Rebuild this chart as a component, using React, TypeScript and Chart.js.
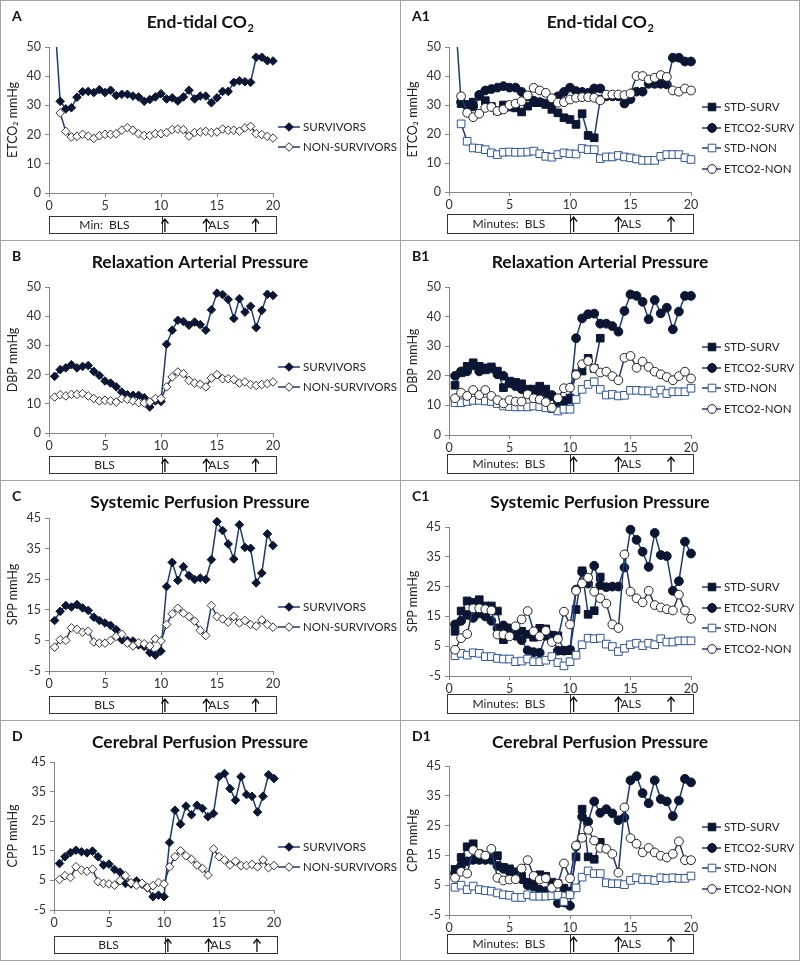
import { useEffect, useRef } from 'react';
import { Chart, registerables } from 'chart.js';

Chart.register(...registerables);

if (typeof document !== 'undefined') document.body.style.margin = '0';

const FONT = 'Lato, "Open Sans", "DejaVu Sans", sans-serif';

// ---------- DATA ----------
const minutes = [0.5, 1, 1.5, 2, 2.5, 3, 3.5, 4, 4.5, 5, 5.5, 6, 6.5, 7, 7.5, 8, 8.5, 9, 9.5, 10,
  10.5, 11, 11.5, 12, 12.5, 13, 13.5, 14, 14.5, 15, 15.5, 16, 16.5, 17, 17.5, 18, 18.5, 19, 19.5, 20];
const xTicks = [0, 5, 10, 15, 20];
const yTicks50 = [0, 10, 20, 30, 40, 50];
const yTicks45 = [-5, 5, 15, 25, 35, 45];

// A: End-tidal CO2
const A_SURV = [60, 31.4, 28.8, 29.2, 32.8, 34.7, 34.8, 34.4, 35.4, 34.4, 35.2, 33.4, 33.8, 33.8, 33.2, 32.9, 31.4, 32, 32.9, 34,
  32.2, 32.6, 31.5, 32.9, 35.2, 32.2, 33.2, 33.2, 30.9, 32.6, 34.8, 34.8, 37.9, 38.4, 38.1, 37.9, 46.5, 46.5, 45.3, 45.2];
const A_NON = [null, 27.4, 21.1, 19.2, 19.4, 20.1, 19.5, 18.7, 19.6, 20.1, 20.1, 20.3, 21.5, 22.4, 21.5, 20.3, 19.7, 19.7, 20.3, 20.3,
  20.7, 21.7, 21.9, 21.7, 19.5, 20.7, 20.9, 21.1, 20.7, 20.9, 21.9, 21.5, 21.5, 21.2, 22.3, 22.8, 20.3, 20, 19.4, 18.8];
// A1
const A1_STD_SURV = [null, 30.5, 30, 31, 33, 31.5, 29.5, 28, 30, 29.3, 29, 27.6, 29.6, 30.8, 30.8, 30.2, 28.5, 27.3, 25.6, 25,
  23.3, 27, 19.5, 18.7, 32, null, null, null, null, null, null, null, null, null, null, null, null, null, null, null];
const A1_ET_SURV = [62, 31, 30, 29.5, 33.5, 35, 35.5, 36, 36.5, 36, 36, 34.5, 33, 31.5, 31, 30.5, 31, 33, 34.5, 36,
  34.8, 34.5, 34.2, 35.7, 35.7, 33, 33, 33, 30.5, 32, 34.6, 34.6, 37.3, 37.3, 37.3, 37.1, 46.3, 46.3, 45, 45];
const A1_STD_NON = [null, 23.5, 17.5, 15.2, 15, 14.6, 13.5, 12.9, 13.7, 13.8, 13.7, 13.7, 13.8, 14.1, 13.2, 12.3, 12, 12.9, 13.5, 13.2,
  13.1, 15, 14.6, 14.6, 11.5, 12.1, 12.1, 12.6, 12.1, 11.8, 11.4, 10.9, 10.9, 10.9, 12.3, 12.9, 12.9, 12.9, 11.8, 11.2];
const A1_ET_NON = [null, 33, 27.3, 25.8, 27, 29, 29.3, 27.9, 28.5, 30, 30.5, 31.3, 33.3, 35.9, 35, 34.2, 32.3, 30.8, 31, 31.9,
  32.5, 32.7, 32.7, 32.5, 31.6, 33.6, 33.6, 33.6, 33.4, 34, 40, 40, 38.8, 39.4, 40.3, 39.7, 35, 34.6, 35.7, 35];

// B: Relaxation Arterial Pressure
const B_SURV = [19.4, 21.7, 22.3, 23.4, 22.3, 22.8, 23.1, 21.1, 19.7, 17.8, 17.1, 15.8, 14, 13.1, 12.9, 12.9, 12.1, 8.9, 11, 10.8,
  30.4, 35.2, 38.6, 38.2, 36.9, 38, 37.1, 35.2, 42.2, 47.9, 47.4, 45.7, 39.2, 46, 41.4, 43.4, 36.1, 42, 47.5, 47.1];
const B_NON = [12.3, 13.1, 12.7, 13.2, 13.2, 13.5, 12.7, 11.8, 11, 11.2, 11, 10.6, 11.8, 11.5, 11, 10.4, 10.3, 10.6, 11.8, 11.8,
  15.8, 19.2, 20.9, 20.3, 18, 17.1, 16.7, 15.8, 18.8, 20, 18.6, 18.6, 18.3, 17.1, 17.5, 16.6, 16.3, 16.6, 16.9, 17.5];
// B1
const B1_STD_SURV = [16.8, 21, 23.2, 24.4, 23.2, 22, 23, 21.6, 16, 18.2, 17.8, 17.3, 15.5, 15.5, 16.5, 15.5, 13, 11.5, 11, 12.5,
  20.7, 21.6, 25.9, 22.5, 32.7, null, null, null, null, null, null, null, null, null, null, null, null, null, null, null];
const B1_ET_SURV = [20, 21.5, 21.5, 23.5, 21.5, 22.5, 22.5, 20.5, 20, 17.5, 16.5, 15.5, 14.5, 14, 14, 14, 13.5, 11, 11.5, 12,
  32.7, 39.4, 40.8, 41, 37.6, 37.6, 36.8, 34.9, 41.9, 47.5, 47, 45, 39.1, 45.6, 41.1, 43, 35.7, 41.7, 47, 47];
const B1_STD_NON = [10.9, 10.9, 11.3, 11.7, 11.7, 11.5, 11.3, 10.6, 9.8, 9.6, 9.5, 9.5, 9.5, 9.8, 9.6, 9.2, 8.9, 8.1, 8.7, 8.7,
  12, 15.4, 17.1, 18, 15.4, 13.5, 13.7, 13.2, 13.4, 15.1, 15.1, 14.9, 14.9, 14.1, 15.2, 14, 14.6, 14.6, 14.6, 15.8];
const B1_ET_NON = [12.4, 14.3, 13.2, 15.2, 13.5, 15.2, 13.2, 11.8, 10.7, 11.8, 11.3, 11.3, 13.7, 12.4, 12, 11.1, 9.2, 12.4, 15.8, 16,
  20.3, 23.9, 25, 22.5, 21.1, 21.4, 19.9, 18.5, 26.1, 26.7, 22.7, 24.8, 23, 21.4, 20.5, 19.6, 18.5, 19.9, 21.4, 19.1];

// C: Systemic Perfusion Pressure
const C_SURV = [11.5, 14.5, 16.4, 15.9, 16.7, 15.6, 14.8, 12.6, 11.5, 10.7, 9.9, 8.5, 5.2, 5, 4.8, 3.5, 3, 1, 0.2, 1.5,
  22.6, 30.5, 24.6, 29.1, 26.2, 24.9, 25.4, 24.9, 31.4, 43.8, 40.9, 36.5, 31.6, 42.8, 35.4, 35.1, 23.8, 27, 39.8, 36];
const C_NON = [2.8, 5.2, 5, 9.1, 8.6, 7.7, 8, 4.5, 4.1, 4.1, 5, 6.3, 7, 4.1, 3.2, 4.2, 3.9, 3.2, 5.5, 4.8,
  10.2, 13.7, 15.5, 13.9, 12.8, 11.3, 8.3, 6.6, 16.4, 12.8, 12, 11, 12.8, 10.7, 11.5, 10.2, 9.7, 11.7, 10.2, 9.3];
// C1
const C1_STD_SURV = [10, 16.8, 20.2, 19.7, 20.6, 18.5, 18.5, 16.8, 7.2, 9.8, 9, 10, 9, 8, 11, 10.8, 8.7, 8.5, 3.5, 3.5,
  17.3, 30.3, 15.7, 16.9, 28.2, null, null, null, null, null, null, null, null, null, null, null, null, null, null, null];
const C1_ET_SURV = [12.3, 13.5, 15.5, 14.5, 16, 15, 13.5, 11, 12, 11, 8.5, 7, 3.6, 3, 2.8, 8.5, 8.5, 3.5, 3.5, 3.8,
  24, 30, 26, 32, 25.5, 24.8, 25, 25, 31.4, 44.1, 40.7, 36.7, 31.6, 43, 35.6, 35.2, 23.6, 26.8, 40.1, 36.1];
const C1_STD_NON = [1.8, 2.6, 2, 2.8, 2.6, 1.5, 1.5, 0.9, 0.7, 0.7, -0.2, 0, 0.7, -0.2, -0.2, 0.3, 1.5, -0.5, -1.6, -0.2,
  2, 5.5, 7.7, 7.5, 7.7, 5.7, 4.9, 3.2, 4.3, 5.5, 6, 5.2, 6, 5.5, 7.5, 6.4, 6.4, 6.8, 6.8, 6.8];
const C1_ET_NON = [3.8, 7.7, 9.1, 17.7, 17.7, 17.4, 17, 8.9, 8.9, 8.3, 11.7, 14, 16.8, 10, 8.3, 10.2, 6.4, 7.5, 16.6, 12.3,
  23.6, 26.1, 28, 23.3, 21.1, 19.3, 12.3, 11.1, 35.8, 23.3, 21.1, 19.7, 23.6, 18.8, 18, 17.4, 17, 22.3, 17, 14.2];

// D: Cerebral Perfusion Pressure
const D_SURV = [10.7, 13, 14.4, 15.2, 14.7, 14.3, 14.9, 13, 10.2, 10.5, 8.7, 7.8, 4, 3.8, 4.8, 3.7, 2.5, -0.5, 0, -0.5,
  17.8, 28.7, 24, 30.1, 27.2, 30.4, 29.3, 26.5, 27.6, 40, 41.1, 36, 32.1, 40, 34, 33.4, 28.1, 33.4, 40.7, 39.4];
const D_NON = [5.3, 6.6, 6, 9.6, 8.5, 8.1, 8.8, 4.6, 4, 3.8, 3.4, 4.9, 6.6, 4.2, 3.4, 4, 2.6, 3.2, 4.3, 3.8,
  9.6, 13, 15, 13.3, 12.1, 10.2, 9, 6.8, 15.6, 13, 11.9, 10.2, 11.5, 10, 10, 10.4, 9.6, 11.9, 9.3, 10];
// D1
const D1_STD_SURV = [10.3, 14.3, 17.9, 18.9, 15.5, 14.5, 14, 14.9, 11, 10.5, 9.5, 8, 6, 6, 8.5, 8, 6, 5.5, 4, 3,
  14.5, 30.5, 14.5, 13.7, 19.4, null, null, null, null, null, null, null, null, null, null, null, null, null, null, null];
const D1_ET_SURV = [9, 11.5, 13, 13.5, 13.5, 13.5, 13.5, 11.5, 10.5, 9.5, 8.5, 7, 5, 4.5, 3.5, 3, 2.5, -1, -0.8, -1.9,
  18, 28, 26.3, 33.1, 29.3, 30.5, 29.1, 26.8, 27.7, 40.2, 41.6, 35.9, 32.5, 40.2, 33.9, 33.1, 28.2, 33.4, 40.7, 39.5];
const D1_STD_NON = [4.3, 5, 3.5, 4.7, 3.5, 3.2, 3, 2.4, 1.8, 1.6, 0.9, 0.9, 1.8, 1.3, 1.3, 1.3, 1.5, 1.6, -0.5, 1.8,
  4.1, 7.7, 9.8, 8.9, 8.9, 5.8, 5.5, 5.5, 5.2, 6.6, 7.5, 6.9, 6.9, 6.6, 7.5, 7.3, 7.5, 7.3, 7.3, 8.1];
const D1_ET_NON = [7.5, 9.5, 8.9, 16.8, 15.5, 14.9, 17.2, 7.5, 6.6, 6.9, 7, 10.6, 13.4, 8.1, 6.9, 7.3, 4.1, 5.5, 12.3, 7.3,
  18.3, 20.9, 23.6, 20, 17.5, 17.2, 15.5, 9.2, 31.1, 20.8, 18.9, 16, 17.5, 16, 14.9, 14.3, 15.5, 19.7, 13.4, 13.4];

// ---------- STYLES ----------
const LINE = '#1f3a70';
type Shape = 'rectRot' | 'rect' | 'circle';
type Style = { shape: Shape; r: number; fill: string; stroke: string };
const STYLES: Record<string, Style> = {
  survDiamond: { shape: 'rectRot', r: 4.3, fill: '#0b1633', stroke: '#0b1633' },
  nonDiamond: { shape: 'rectRot', r: 4.3, fill: '#ffffff', stroke: '#333333' },
  stdSurv: { shape: 'rect', r: 5.4, fill: '#0b1633', stroke: '#0b1633' },
  etSurv: { shape: 'circle', r: 4.4, fill: '#0b1633', stroke: '#0b1633' },
  stdNon: { shape: 'rect', r: 5.4, fill: '#ffffff', stroke: '#2f5597' },
  etNon: { shape: 'circle', r: 4.4, fill: '#ffffff', stroke: '#222222' },
};

type Series = { label: string; values: (number | null)[]; style: string };
type PanelCfg = {
  letter: string; title: string; sub?: string; yTitle: string;
  yMin: number; yMax: number; yTicks: number[];
  right: boolean; lastRow: boolean; boxText: string;
  yWidth: number; top: number; bottom: number; plotRight: number;
  clipTop: number; series: Series[];
};

const leftSeries = (s: (number | null)[], n: (number | null)[]): Series[] => [
  { label: 'SURVIVORS', values: s, style: 'survDiamond' },
  { label: 'NON-SURVIVORS', values: n, style: 'nonDiamond' },
];
const rightSeries = (a: (number | null)[], b: (number | null)[], c: (number | null)[], d: (number | null)[]): Series[] => [
  { label: 'STD-SURV', values: a, style: 'stdSurv' },
  { label: 'ETCO2-SURV', values: b, style: 'etSurv' },
  { label: 'STD-NON', values: c, style: 'stdNon' },
  { label: 'ETCO2-NON', values: d, style: 'etNon' },
];

const PANELS: PanelCfg[] = [
  { letter: 'A', title: 'End-tidal CO', sub: '2', yTitle: 'ETCO\u2082 mmHg', yMin: 0, yMax: 50, yTicks: yTicks50, right: false, lastRow: false,
    boxText: 'Min:  BLS', yWidth: 49, top: 47, bottom: 193, plotRight: 273, clipTop: 0, series: leftSeries(A_SURV, A_NON) },
  { letter: 'A1', title: 'End-tidal CO', sub: '2', yTitle: 'ETCO\u2082 mmHg', yMin: 0, yMax: 50, yTicks: yTicks50, right: true, lastRow: false,
    boxText: 'Minutes:  BLS', yWidth: 49, top: 47, bottom: 192, plotRight: 291, clipTop: 0, series: rightSeries(A1_STD_SURV, A1_ET_SURV, A1_STD_NON, A1_ET_NON) },
  { letter: 'B', title: 'Relaxation Arterial Pressure', yTitle: 'DBP mmHg', yMin: 0, yMax: 50, yTicks: yTicks50, right: false, lastRow: false,
    boxText: 'BLS', yWidth: 49, top: 47, bottom: 193, plotRight: 273, clipTop: 6, series: leftSeries(B_SURV, B_NON) },
  { letter: 'B1', title: 'Relaxation Arterial Pressure', yTitle: 'DBP mmHg', yMin: 0, yMax: 50, yTicks: yTicks50, right: true, lastRow: false,
    boxText: 'Minutes:  BLS', yWidth: 49, top: 47, bottom: 195, plotRight: 291, clipTop: 6, series: rightSeries(B1_STD_SURV, B1_ET_SURV, B1_STD_NON, B1_ET_NON) },
  { letter: 'C', title: 'Systemic Perfusion Pressure', yTitle: 'SPP mmHg', yMin: -5, yMax: 45, yTicks: yTicks45, right: false, lastRow: false,
    boxText: 'BLS', yWidth: 49, top: 38, bottom: 191, plotRight: 273, clipTop: 6, series: leftSeries(C_SURV, C_NON) },
  { letter: 'C1', title: 'Systemic Perfusion Pressure', yTitle: 'SPP mmHg', yMin: -5, yMax: 45, yTicks: yTicks45, right: true, lastRow: false,
    boxText: 'Minutes:  BLS', yWidth: 49, top: 47, bottom: 196, plotRight: 291, clipTop: 6, series: rightSeries(C1_STD_SURV, C1_ET_SURV, C1_STD_NON, C1_ET_NON) },
  { letter: 'D', title: 'Cerebral Perfusion Pressure', yTitle: 'CPP mmHg', yMin: -5, yMax: 45, yTicks: yTicks45, right: false, lastRow: true,
    boxText: 'BLS', yWidth: 54, top: 42, bottom: 190, plotRight: 274, clipTop: 6, series: leftSeries(D_SURV, D_NON) },
  { letter: 'D1', title: 'Cerebral Perfusion Pressure', yTitle: 'CPP mmHg', yMin: -5, yMax: 45, yTicks: yTicks45, right: true, lastRow: true,
    boxText: 'Minutes:  BLS', yWidth: 49, top: 46, bottom: 195, plotRight: 291, clipTop: 6, series: rightSeries(D1_STD_SURV, D1_ET_SURV, D1_STD_NON, D1_ET_NON) },
];

function drawMarker(ctx: CanvasRenderingContext2D, st: Style, x: number, y: number) {
  ctx.beginPath();
  if (st.shape === 'circle') {
    ctx.arc(x, y, st.r, 0, Math.PI * 2);
  } else if (st.shape === 'rect') {
    const s = st.r * Math.SQRT1_2;
    ctx.rect(x - s, y - s, 2 * s, 2 * s);
  } else {
    ctx.moveTo(x, y - st.r); ctx.lineTo(x + st.r, y); ctx.lineTo(x, y + st.r); ctx.lineTo(x - st.r, y); ctx.closePath();
  }
  ctx.fillStyle = st.fill; ctx.fill();
  ctx.lineWidth = 1; ctx.strokeStyle = st.stroke; ctx.stroke();
}

function makeDecor(cfg: PanelCfg, h: number) {
  return {
    id: 'decor',
    afterDraw(chart: any) {
      const ctx = chart.ctx as CanvasRenderingContext2D;
      const xs = chart.scales.x;
      ctx.save();
      // cell borders
      ctx.strokeStyle = '#a3a3a3'; ctx.lineWidth = 1;
      ctx.beginPath();
      ctx.moveTo(0.5, 0); ctx.lineTo(0.5, h);
      ctx.moveTo(0, 0.5); ctx.lineTo(400, 0.5);
      if (cfg.right) { ctx.moveTo(399.5, 0); ctx.lineTo(399.5, h); }
      if (cfg.lastRow) { ctx.moveTo(0, h - 0.5); ctx.lineTo(400, h - 0.5); }
      ctx.stroke();
      // panel letter
      ctx.fillStyle = '#111'; ctx.textAlign = 'left'; ctx.textBaseline = 'alphabetic';
      ctx.font = `bold 14px ${FONT}`;
      ctx.fillText(cfg.letter, 12, 21);
      // title
      ctx.font = `bold 17.5px ${FONT}`;
      const w1 = ctx.measureText(cfg.title).width;
      ctx.font = `bold 11px ${FONT}`;
      const w2 = cfg.sub ? ctx.measureText(cfg.sub).width : 0;
      const x0 = 200 - (w1 + w2) / 2;
      ctx.font = `bold 17.5px ${FONT}`;
      ctx.fillText(cfg.title, x0, 28);
      if (cfg.sub) { ctx.font = `bold 11px ${FONT}`; ctx.fillText(cfg.sub, x0 + w1 + 0.5, 32); }
      // legend
      const lg = cfg.right
        ? { x1: 302, x2: 321, mx: 312, tx: 324, ys: [107, 128, 148, 169] }
        : { x1: 278, x2: 300, mx: 289, tx: 303, ys: [127, 147] };
      cfg.series.forEach((s, i) => {
        const y = lg.ys[i];
        ctx.strokeStyle = LINE; ctx.lineWidth = 1.5;
        ctx.beginPath(); ctx.moveTo(lg.x1, y); ctx.lineTo(lg.x2, y); ctx.stroke();
        drawMarker(ctx, STYLES[s.style], lg.mx, y);
        ctx.fillStyle = '#222'; ctx.font = `11.5px ${FONT}`; ctx.textBaseline = 'middle'; ctx.textAlign = 'left';
        ctx.fillText(s.label, lg.tx, y + 0.5);
      });
      // phase box
      const bx = cfg.right
        ? { a: -0.2, b: 20.2, div: 10.0, arrows: [10.3, 14.0, 18.35], top: 214, bot: 233 }
        : { a: 0, b: 20.3, div: 10.1, arrows: [10.35, 14.05, 18.45], top: 216, bot: 233 };
      const L = Math.round(xs.getPixelForValue(bx.a)) + 0.5;
      const R = Math.round(xs.getPixelForValue(bx.b)) + 0.5;
      ctx.strokeStyle = '#333'; ctx.lineWidth = 1;
      ctx.strokeRect(L, bx.top + 0.5, R - L, bx.bot - bx.top);
      const D = Math.round(xs.getPixelForValue(bx.div)) + 0.5;
      ctx.beginPath(); ctx.moveTo(D, bx.top); ctx.lineTo(D, bx.bot); ctx.stroke();
      ctx.lineWidth = 1.3; ctx.strokeStyle = '#111';
      bx.arrows.forEach((v) => {
        const ax = xs.getPixelForValue(v);
        const t = bx.top + 3, b = bx.bot - 1;
        ctx.beginPath();
        ctx.moveTo(ax, b); ctx.lineTo(ax, t);
        ctx.moveTo(ax - 3.5, t + 4.5); ctx.lineTo(ax, t); ctx.lineTo(ax + 3.5, t + 4.5);
        ctx.stroke();
      });
      ctx.fillStyle = '#222'; ctx.font = `12px ${FONT}`; ctx.textBaseline = 'middle';
      const my = (bx.top + bx.bot) / 2 + 1;
      ctx.textAlign = 'center';
      ctx.fillText(cfg.boxText, xs.getPixelForValue(4.95), my);
      ctx.textAlign = 'left';
      ctx.fillText('ALS', xs.getPixelForValue(bx.arrows[1]) + 2, my);
      ctx.restore();
    },
  };
}

function PanelChart({ cfg, h }: { cfg: PanelCfg; h: number }) {
  const ref = useRef<HTMLCanvasElement>(null);
  useEffect(() => {
    const canvas = ref.current;
    if (!canvas) return;
    const n = cfg.series.length;
    const datasets = cfg.series.map((s, i) => {
      const st = STYLES[s.style];
      return {
        label: s.label,
        data: minutes.map((m, k) => ({ x: m, y: s.values[k] })),
        borderColor: LINE,
        borderWidth: 1.5,
        pointStyle: st.shape,
        pointRadius: st.r,
        pointBackgroundColor: st.fill,
        pointBorderColor: st.stroke,
        pointBorderWidth: 1,
        tension: 0,
        spanGaps: false,
        order: n - i,
        clip: { left: 6, right: 6, bottom: 6, top: cfg.clipTop },
      };
    });
    const axisColor = '#868686';
    const tickFont = { family: FONT, size: 12.5 };
    const xScaleH = 20;
    const chart = new Chart(canvas, {
      type: 'line',
      data: { datasets: datasets as any },
      plugins: [makeDecor(cfg, h)],
      options: {
        animation: false,
        responsive: false,
        devicePixelRatio: 1,
        layout: { padding: { left: 0, top: cfg.top, right: 400 - cfg.plotRight, bottom: h - cfg.bottom - xScaleH } },
        plugins: { legend: { display: false }, tooltip: { enabled: false }, title: { display: false } },
        scales: {
          x: {
            type: 'linear', min: 0, max: 20,
            afterBuildTicks: (sc: any) => { sc.ticks = xTicks.map((v) => ({ value: v })); },
            afterFit: (sc: any) => { sc.height = xScaleH; },
            grid: { drawOnChartArea: false, drawTicks: true, tickLength: 4, color: axisColor },
            border: { color: axisColor, width: 1 },
            ticks: { color: '#333', font: tickFont, padding: 1, maxRotation: 0 },
          },
          y: {
            type: 'linear', min: cfg.yMin, max: cfg.yMax,
            afterBuildTicks: (sc: any) => { sc.ticks = cfg.yTicks.map((v) => ({ value: v })); },
            afterFit: (sc: any) => { sc.width = cfg.yWidth; },
            grid: { drawOnChartArea: false, drawTicks: true, tickLength: 4, color: axisColor },
            border: { color: axisColor, width: 1 },
            ticks: { color: '#333', font: tickFont, padding: 4 },
            title: { display: true, text: cfg.yTitle, color: '#222', font: { family: FONT, size: 12.5 }, padding: { top: 5, bottom: 0 } },
          },
        },
      } as any,
    });
    return () => chart.destroy();
  }, [cfg, h]);
  return <canvas ref={ref} width={400} height={h} style={{ display: 'block', width: 400, height: h }} />;
}

export default function App() {
  return (
    <div style={{ position: 'relative', width: 800, height: 961, background: '#fff', overflow: 'hidden' }}>
      {PANELS.map((p, i) => {
        const col = i % 2, row = Math.floor(i / 2);
        const h = row === 3 ? 241 : 240;
        return (
          <div key={p.letter} style={{ position: 'absolute', left: col * 400, top: row * 240, width: 400, height: h }}>
            <PanelChart cfg={p} h={h} />
          </div>
        );
      })}
    </div>
  );
}
